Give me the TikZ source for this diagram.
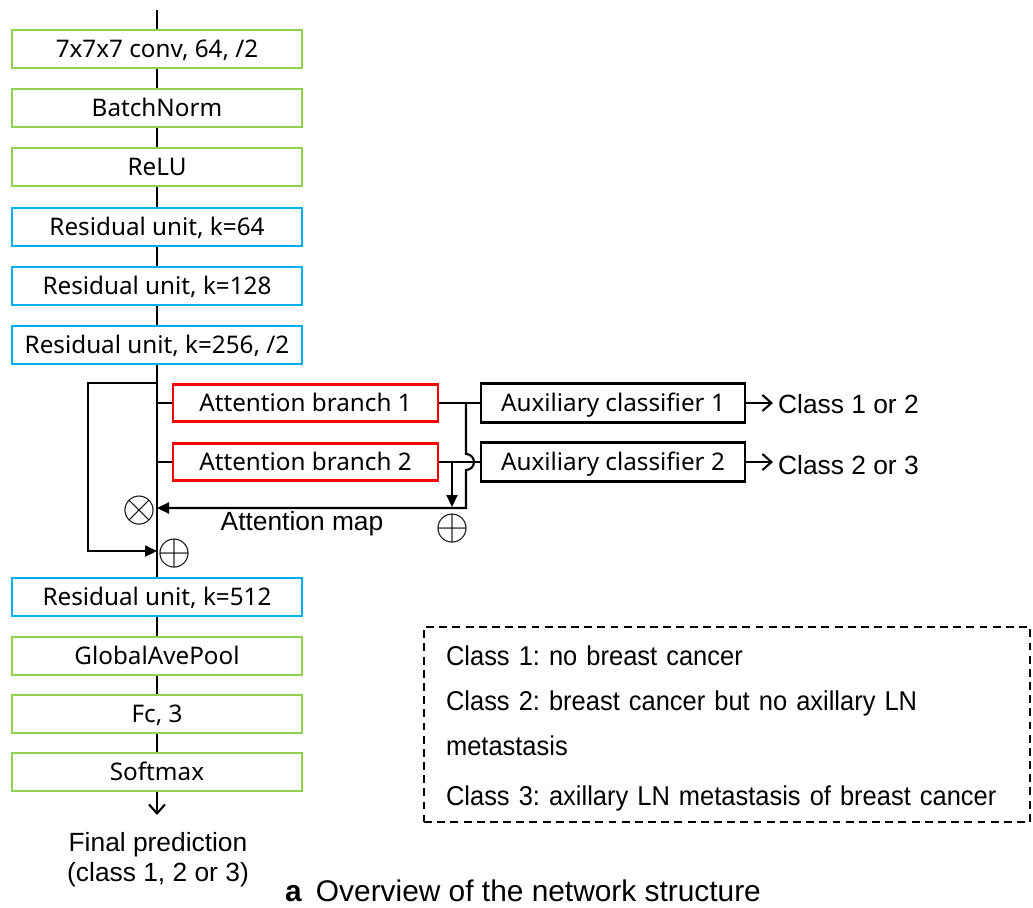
\documentclass[tikz,border=0pt]{standalone}
\usepackage{fontspec}
\setmainfont{Liberation Sans}
\newfontfamily\boxfont{Noto Sans}
\newfontfamily\legendfont{Liberation Sans}[FakeStretch=0.935]
\usetikzlibrary{arrows.meta, positioning, calc}
\definecolor{layergreen}{HTML}{92D050}
\definecolor{resblue}{HTML}{00B0F0}
\tikzset{
    layer/.style={rectangle, draw=layergreen, line width=1.2pt, align=center, minimum width=5.8cm, minimum height=0.76cm, inner sep=0pt, text height=9.9pt, text depth=0pt, font=\boxfont\fontsize{13.8}{16}\selectfont},
    resunit/.style={layer, draw=resblue},
    branch/.style={layer, draw=red, minimum width=5.3cm, minimum height=0.74cm},
    auxcls/.style={layer, draw=black, minimum width=5.28cm, minimum height=0.78cm},
    plaintext/.style={align=center, inner sep=1pt, font=\fontsize{15}{17}\selectfont},
    legend/.style={rectangle, draw=black, line width=1.1pt, dash pattern=on 4.5pt off 3pt, align=left, text width=11.24cm, inner xsep=0.44cm, minimum height=3.9cm, font=\legendfont\frenchspacing\fontsize{15.5}{25.6}\selectfont}
}

\begin{document}
\begin{tikzpicture}[
    x=0.02cm, y=-0.02cm,
    line/.style={line width=1.2pt},
    arrow/.style={line width=1.2pt, -{Triangle[length=2.4mm, width=2.2mm]}},
    openarrow/.style={line width=1.2pt, -{Straight Barb[length=1.8mm, width=3.2mm]}},
    symbol/.style={inner sep=0pt, font=\fontsize{24}{24}\selectfont}
]
    \useasboundingbox (0,0) rectangle (1033,907);

    % Main stem
    \node[layer] (conv) at (157,49) {7x7x7 conv, 64, /2};
    \node[layer] (bn) at (157,108) {BatchNorm};
    \node[layer] (relu) at (157,167) {ReLU};
    \node[resunit] (res1) at (157,227) {Residual unit, k=64};
    \node[resunit] (res2) at (157,286) {Residual unit, k=128};
    \node[resunit] (res3) at (157,345) {Residual unit, k=256, /2};
    \node[resunit] (res4) at (157,597) {Residual unit, k=512};
    \node[layer] (pool) at (157,656) {GlobalAvePool};
    \node[layer] (fc) at (157,714) {Fc, 3};
    \node[layer] (soft) at (157,772) {Softmax};
    \node[plaintext] (final) at (158,860) {Final prediction\\(class 1, 2 or 3)};

    % Attention branches and auxiliary classifiers
    \node[branch] (att1) at (305.5,403) {Attention branch 1};
    \node[branch] (att2) at (305.5,462) {Attention branch 2};
    \node[auxcls] (aux1) at (613,403) {Auxiliary classifier 1};
    \node[auxcls] (aux2) at (613,462) {Auxiliary classifier 2};
    \node[plaintext, anchor=west] (out1) at (776,404) {Class 1 or 2};
    \node[plaintext, anchor=west] (out2) at (776,465) {Class 2 or 3};

    % Operators
    \node[symbol] (mult) at (139,511) {$\otimes$};
    \node[symbol] (add1) at (174,554) {$\oplus$};
    \node[symbol] (add2) at (452,529) {$\oplus$};
    \node[plaintext] (mapname) at (302,524) {Attention map};

    % Junctions
    \coordinate (in) at (157,10);
    \coordinate (split) at (157,383);
    \coordinate (skipleft) at (88,383);
    \coordinate (skipin) at (157,551);
    \coordinate (maptop) at (466,403);
    \coordinate (mapturn) at (466,508);
    \coordinate (mapin) at (157,508);
    \coordinate (sumtap) at (452,462);
    \coordinate (sumend) at (452,507);
    \coordinate (out) at (157,815);

    % Main arrows
    \draw[line] (in) -- (conv);
    \foreach \a/\b in {conv/bn, bn/relu, relu/res1, res1/res2, res2/res3, res3/res4, res4/pool, pool/fc, fc/soft}
        \draw[line] (\a) -- (\b);
    \draw[openarrow] (soft) -- (out);

    % Attention arrows
    \draw[line] (split |- att1) -- (att1);
    \draw[line] (split |- att2) -- (att2);
    \draw[line] (att1) -- (aux1);
    \draw[line] (att2) -- (aux2);
    \draw[arrow] (maptop) -- ($(maptop |- att2)+(0,-8)$) arc[start angle=-90, end angle=90, radius=8] -- (mapturn) -- (mapin);
    \draw[arrow] (sumtap) -- (sumend);
    \draw[arrow] (split) -- (skipleft) |- (skipin);
    \draw[openarrow] (aux1.east) -- ($(aux1.east -| out1.west)+(-3,0)$);
    \draw[openarrow] (aux2.east) -- ($(aux2.east -| out2.west)+(-3,0)$);

    % Class legend
    \node[legend] (classes) at (727,724.5) {\rule{0pt}{16pt}Class 1: no breast cancer\\Class 2: breast cancer but no axillary LN\\metastasis\\[2.8pt]Class 3: axillary LN metastasis of breast cancer};

    \node[font=\fontsize{17}{20}\selectfont] (caption) at (523,891) {\textbf{a}\hspace{8pt}Overview of the network structure};

\end{tikzpicture}
\end{document}
